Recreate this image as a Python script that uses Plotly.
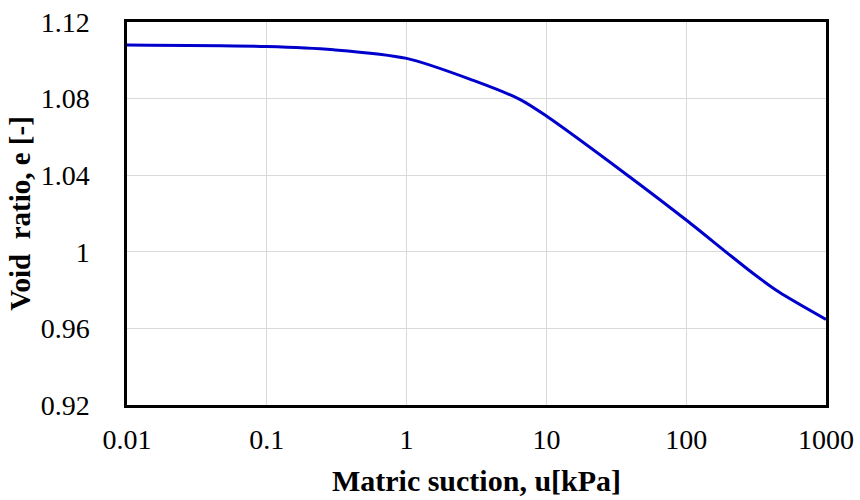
import plotly.graph_objects as go

suction_kpa = [0.01, 0.1, 0.3, 1, 3, 6.5, 10, 38, 100, 192, 300, 461, 1000]
void_ratio = [1.108, 1.1072, 1.1055, 1.101, 1.0895, 1.0795, 1.0709, 1.040, 1.0166,
              1.000, 0.9888, 0.979, 0.9647]

x_ticks = [0.01, 0.1, 1, 10, 100, 1000]
x_tick_labels = ["0.01", "0.1", "1", "10", "100", "1000"]
y_ticks = [0.92, 0.96, 1.0, 1.04, 1.08, 1.12]
y_tick_labels = ["0.92", "0.96", "1", "1.04", "1.08", "1.12"]

fig = go.Figure()
fig.add_trace(go.Scatter(
    x=suction_kpa, y=void_ratio, mode="lines",
    line=dict(color="#0000CC", width=3, shape="spline", smoothing=0.8),
    showlegend=False,
))

font_family = "Liberation Serif, Times New Roman, serif"
fig.update_layout(
    width=860, height=500,
    margin=dict(l=127, r=34, t=22, b=95, autoexpand=False),
    paper_bgcolor="white", plot_bgcolor="white",
    font=dict(family=font_family, size=28, color="black"),
)
fig.update_xaxes(
    type="log", range=[-2, 3],
    tickvals=x_ticks, ticktext=x_tick_labels,
    showgrid=True, gridcolor="#D9D9D9", gridwidth=1,
    showline=True, linecolor="black", linewidth=2.5, mirror=True,
    ticks="", ticklabelstandoff=8,
    title=dict(text="<b>Matric suction, u[kPa]</b>", font=dict(size=30), standoff=16),
    zeroline=False,
)
fig.update_yaxes(
    range=[0.92, 1.12],
    tickvals=y_ticks, ticktext=y_tick_labels,
    showgrid=True, gridcolor="#D9D9D9", gridwidth=1,
    showline=True, linecolor="black", linewidth=2.5, mirror=True,
    ticks="", ticklabelstandoff=29,
    title=dict(text="<b>Void  ratio, e [-]</b>", font=dict(size=29), standoff=2),
    zeroline=False,
)

fig.write_html("out.html", config={"displayModeBar": False},
               post_script="document.body.style.margin='0';")
